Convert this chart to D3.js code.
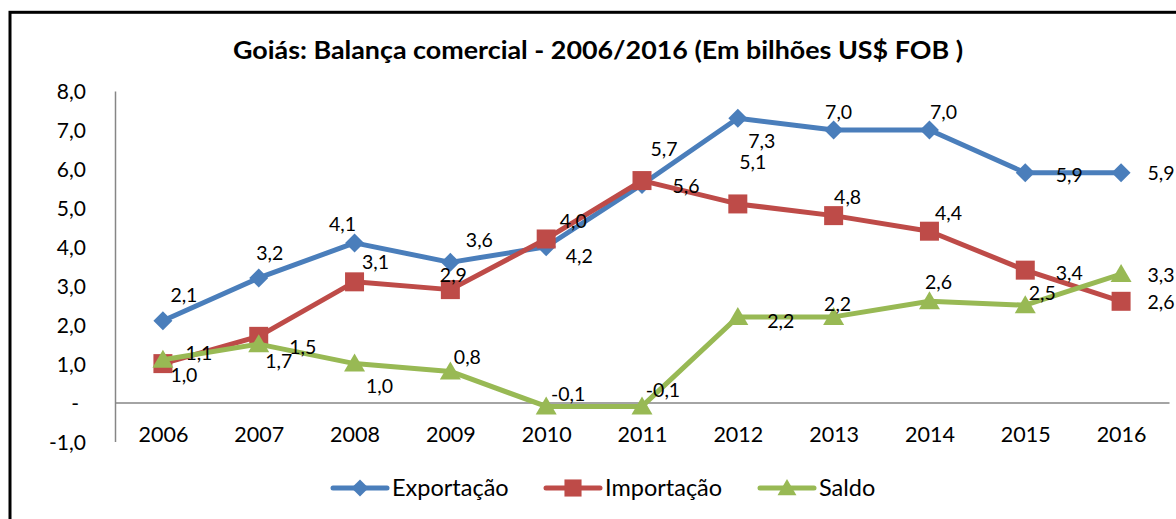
<!DOCTYPE html>
<html>
<head>
<meta charset="utf-8">
<script src="https://cdn.jsdelivr.net/npm/d3@7"></script>
<style>
  html, body { margin: 0; padding: 0; background: #fff; }
  svg { display: block; }
  text { font-family: Lato, "Open Sans", sans-serif; fill: #000; }
</style>
</head>
<body>
<svg id="chart" width="1176" height="519"></svg>
<script>
// ---- Data ----
const years = ["2006","2007","2008","2009","2010","2011","2012","2013","2014","2015","2016"];
const exportacao = [2.1, 3.2, 4.1, 3.6, 4.0, 5.6, 7.3, 7.0, 7.0, 5.9, 5.9];
const importacao = [1.0, 1.7, 3.1, 2.9, 4.2, 5.7, 5.1, 4.8, 4.4, 3.4, 2.6];
const saldo      = [1.1, 1.5, 1.0, 0.8, -0.1, -0.1, 2.2, 2.2, 2.6, 2.5, 3.3];
const yTicks = [-1, 0, 1, 2, 3, 4, 5, 6, 7, 8];
const seriesNames = ["Exportação", "Importação", "Saldo"];
const titleText = "Goiás: Balança comercial - 2006/2016 (Em bilhões US$ FOB )";

// ---- Label placement offsets (pixels, relative to each point) ----
const offExp = [[21,-26],[11,-25],[-12,-19],[29,-22],[27,-26],[44,2],[24,23],[5,-18],[14,-18],[44,2],[40,0]];
const offImp = [[21,11],[20,25],[21,-20],[3,-15],[33,17],[22,-32],[15,-42],[14,-19],[19,-18],[44,3],[40,1]];
const offSal = [[36,-7],[44,3],[25,22],[17,-14],[22,-12],[21,-16],[43,4],[4,-13],[9,-19],[17,-12],[40,1]];

const colors = ["#4A7EBB", "#BE4B48", "#98B954"];
const shapes = ["diamond", "square", "triangle"];

const svg = d3.select("#chart");

// Outer border
svg.append("rect")
  .attr("x", 10).attr("y", 12.3)
  .attr("width", 1300).attr("height", 700)
  .attr("fill", "none").attr("stroke", "#000").attr("stroke-width", 3);

// Title
svg.append("text")
  .attr("x", 598).attr("y", 59)
  .attr("text-anchor", "middle")
  .attr("font-weight", "bold")
  .attr("font-size", 24)
  .attr("textLength", 730)
  .attr("lengthAdjust", "spacingAndGlyphs")
  .text(titleText);

// Scales
const x = d3.scalePoint().domain(years).range([115, 1169]).padding(0.5);
const y = d3.scaleLinear().domain([-1, 8]).range([441.5, 91]);

const fmt = v => v === 0 ? "-" : d3.format(".1f")(v).replace(".", ",").replace("\u2212", "-");

// Y axis
const gy = svg.append("g").attr("transform", "translate(115,0)")
  .call(d3.axisLeft(y).tickValues(yTicks).tickSize(0).tickSizeOuter(0).tickPadding(29).tickFormat(fmt));
gy.select(".domain").attr("stroke", "#868686").attr("stroke-width", 1.5);
gy.selectAll("text").attr("font-size", 21).attr("font-family", "Lato").attr("dy", "0.36em")
  .attr("dx", d => d === 0 ? -7 : 0);

// X axis at zero
const gx = svg.append("g").attr("transform", `translate(0,${y(0)})`)
  .call(d3.axisBottom(x).tickSize(0).tickSizeOuter(0));
gx.select(".domain").attr("stroke", "#868686").attr("stroke-width", 1.5);
gx.selectAll("text").attr("font-size", 21.5).attr("font-family", "Lato")
  .attr("y", 32).attr("dy", "0.36em");

// Marker path generator
function markerPath(shape) {
  if (shape === "diamond") return "M0,-9.5L9.5,0L0,9.5L-9.5,0Z";
  if (shape === "square") return "M-9.5,-9.5H9.5V9.5H-9.5Z";
  return "M0,-10L10.5,8L-10.5,8Z";
}

const allSeries = [exportacao, importacao, saldo];
const allOffsets = [offExp, offImp, offSal];

const line = d3.line().x((d, i) => x(years[i])).y(d => y(d));

allSeries.forEach((vals, s) => {
  const g = svg.append("g");
  g.append("path").datum(vals)
    .attr("d", line)
    .attr("fill", "none")
    .attr("stroke", colors[s])
    .attr("stroke-width", 5)
    .attr("stroke-linejoin", "round")
    .attr("stroke-linecap", "round");
  g.selectAll("path.m").data(vals).enter().append("path")
    .attr("class", "m")
    .attr("d", markerPath(shapes[s]))
    .attr("transform", (d, i) => `translate(${x(years[i])},${y(d)})`)
    .attr("fill", colors[s]);
});

// Data labels
allSeries.forEach((vals, s) => {
  svg.append("g").selectAll("text").data(vals).enter().append("text")
    .attr("x", (d, i) => x(years[i]) + allOffsets[s][i][0])
    .attr("y", (d, i) => y(d) + allOffsets[s][i][1])
    .attr("dy", "0.36em")
    .attr("text-anchor", "middle")
    .attr("font-size", 19.5)
    .text(d => fmt(d));
});

// Legend
const legendX = [333, 546, 760];
const legendY = 488;
seriesNames.forEach((name, s) => {
  const g = svg.append("g").attr("transform", `translate(${legendX[s]},${legendY})`);
  g.append("line").attr("x1", 0).attr("x2", 54).attr("y1", 0).attr("y2", 0)
    .attr("stroke", colors[s]).attr("stroke-width", 5).attr("stroke-linecap", "round");
  g.append("path").attr("d", markerPath(shapes[s]))
    .attr("transform", "translate(27,0) scale(0.9)")
    .attr("fill", colors[s]);
  g.append("text").attr("x", 59).attr("y", 0).attr("dy", "0.36em")
    .attr("font-size", 23.5).text(name);
});
</script>
</body>
</html>
